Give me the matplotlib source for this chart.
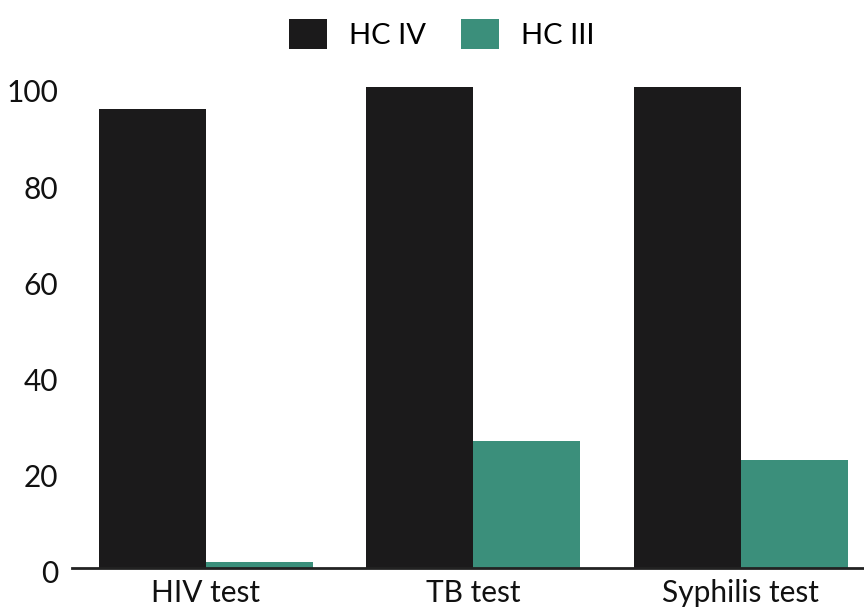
import matplotlib
matplotlib.use("Agg")
import matplotlib.pyplot as plt
import matplotlib.transforms as mtransforms
import numpy as np

categories = ["HIV test", "TB test", "Syphilis test"]
series_names = ["HC IV", "HC III"]
hc4 = [95.5, 100, 100]
hc3 = [1.1, 26.3, 22.4]
yticks = [0, 20, 40, 60, 80, 100]

colors = ["#1b1a1b", "#3b8f7b"]
plt.rcParams['font.family'] = ['Lato', 'DejaVu Sans']

fig = plt.figure(figsize=(8.64, 6.10), dpi=100)
ax = fig.add_axes([72/864, 42.5/610, 1 - 72/864, (567.5-87)/610])

x = np.arange(len(categories))
w = 0.4
ax.bar(x - w/2, hc4, width=w, color=colors[0], label=series_names[0])
ax.bar(x + w/2, hc3, width=w, color=colors[1], label=series_names[1])

ax.set_xlim(-0.5, 2.46)
ax.set_ylim(0, 100)
ax.set_yticks(yticks)
ax.set_yticklabels([str(v) for v in yticks])
ax.set_xticks(x)
ax.set_xticklabels(categories)
ax.tick_params(axis='both', length=0, labelsize=21.5, colors="#111111")
ax.tick_params(axis='y', pad=10)
ax.tick_params(axis='x', pad=8)
offset = mtransforms.ScaledTranslation(0, -4/100, fig.dpi_scale_trans)
for lbl in ax.get_yticklabels():
    lbl.set_transform(lbl.get_transform() + offset)
for s in ["top", "right", "left"]:
    ax.spines[s].set_visible(False)
ax.spines["bottom"].set_linewidth(2)
ax.spines["bottom"].set_color("#222222")

fig.legend(loc="center", bbox_to_anchor=(0.511, 1 - 34/610), ncol=2,
           frameon=False, fontsize=21, handlelength=1.3, handleheight=1.2,
           handletextpad=0.75, columnspacing=1.2)

fig.savefig("out.png", dpi=100)
